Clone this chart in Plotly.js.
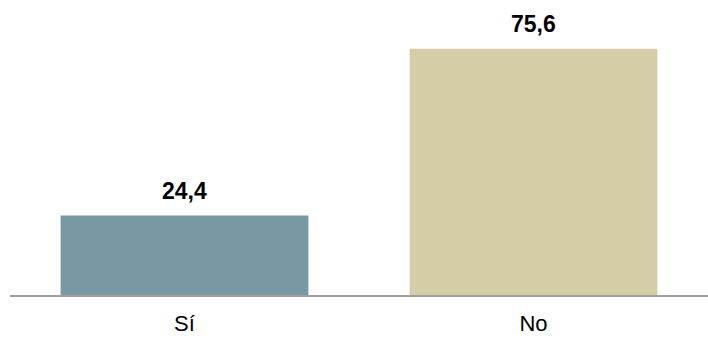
<!DOCTYPE html>
<html>
<head>
<meta charset="utf-8">
<script src="https://cdn.plot.ly/plotly-3.0.1.min.js"></script>
<style>html,body{margin:0;padding:0;background:#fff;}#chart{width:708px;height:339px;}</style>
</head>
<body>
<div id="chart"></div>
<script>
const categories = ["Sí", "No"];
const values = [24.4, 75.6];
const barColors = ["#7899A3", "#D5CCA8"];
const valueLabels = values.map(v => v.toFixed(1).replace(".", ","));

const trace = {
  type: "bar",
  x: categories,
  y: values,
  marker: { color: barColors, line: { width: 0 } },
  hoverinfo: "none"
};

const annotations = categories.map((c, i) => ({
  x: c, y: values[i], xref: "x", yref: "y",
  text: "<b>" + valueLabels[i] + "</b>",
  showarrow: false, yanchor: "bottom", yshift: 10,
  font: { family: "Liberation Sans, Arial, sans-serif", size: 23, color: "#000" }
}));

const layout = {
  width: 708, height: 339,
  margin: { l: 10, r: 0, t: 20, b: 44 },
  paper_bgcolor: "#fff", plot_bgcolor: "#fff",
  showlegend: false,
  bargap: 0.29,
  separators: ",.",
  xaxis: {
    type: "category",
    showline: true, linecolor: "#a0a0a0", linewidth: 2,
    ticks: "", showgrid: false, zeroline: false,
    ticklabelstandoff: 8,
    tickfont: { family: "Liberation Sans, Arial, sans-serif", size: 22, color: "#000" }
  },
  yaxis: {
    range: [0, 84.4], visible: false, showgrid: false, zeroline: false
  },
  annotations: annotations
};

Plotly.newPlot("chart", [trace], layout, { staticPlot: true, displayModeBar: false });
</script>
</body>
</html>
